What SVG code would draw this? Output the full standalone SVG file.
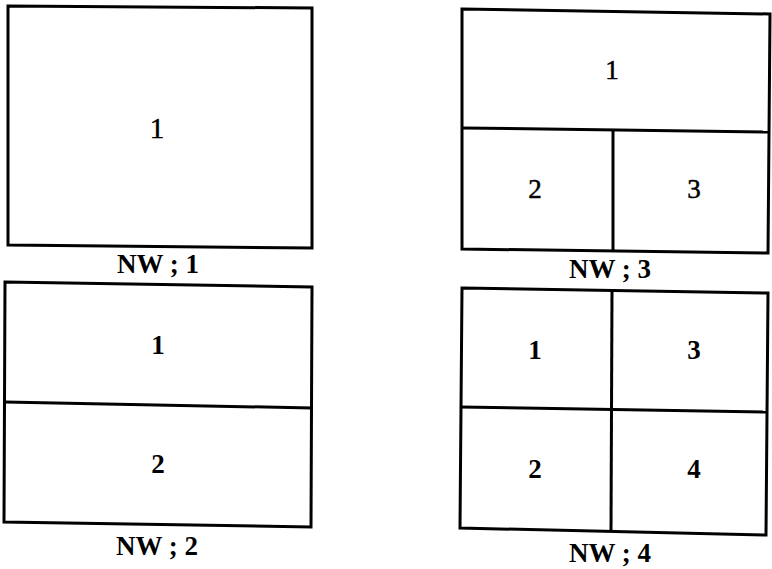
<svg xmlns="http://www.w3.org/2000/svg" width="772" height="569" viewBox="0 0 772 569">
<style>
.box{fill:#fff;stroke:#000;stroke-width:3;stroke-linejoin:miter}
.div{fill:none;stroke:#000;stroke-width:3}
.num{font-family:"Liberation Serif",serif;font-size:27px;text-anchor:middle;fill:#000;stroke:#000;stroke-width:0.5}
.numb{font-family:"Liberation Serif",serif;font-size:27px;font-weight:bold;text-anchor:middle;fill:#000}
.lbl{font-family:"Liberation Serif",serif;font-size:27px;font-weight:bold;text-anchor:middle;fill:#000}
</style>
<rect width="772" height="569" fill="#fff"/>
<g id="nw1">
<polygon class="box" points="8,6 312,8 312,248 8,245"/>
<text class="num" x="157" y="138" style="font-size:29px">1</text>
<text class="lbl" x="158" y="273">NW ; 1</text>
</g>
<g id="nw3">
<polygon class="box" points="462,9 770,14 768,253 462,249"/>
<text class="num" x="612" y="79">1</text>
<text class="num" x="535" y="198">2</text>
<text class="num" x="694" y="198">3</text>
<text class="lbl" x="610" y="278">NW ; 3</text>
</g>
<g id="nw2">
<polygon class="box" points="5,282 312,287 311,527 4,522"/>
<text class="numb" x="158" y="354">1</text>
<text class="numb" x="158" y="473">2</text>
<text class="lbl" x="157" y="555">NW ; 2</text>
</g>
<g id="nw4">
<polygon class="box" points="462,288 768,293 766,535 460,528"/>
<text class="numb" x="535" y="359">1</text>
<text class="numb" x="694" y="359">3</text>
<text class="numb" x="535" y="478">2</text>
<text class="numb" x="694" y="478">4</text>
<text class="lbl" x="610" y="562">NW ; 4</text>
</g>
<g id="connectors">
<line class="div" x1="462" y1="128" x2="770" y2="132"/>
<line class="div" x1="613" y1="130" x2="613" y2="251"/>
<line class="div" x1="5" y1="402" x2="312" y2="408"/>
<line class="div" x1="460" y1="407" x2="768" y2="412"/>
<line class="div" x1="612" y1="290" x2="611" y2="531"/>
</g>
</svg>
